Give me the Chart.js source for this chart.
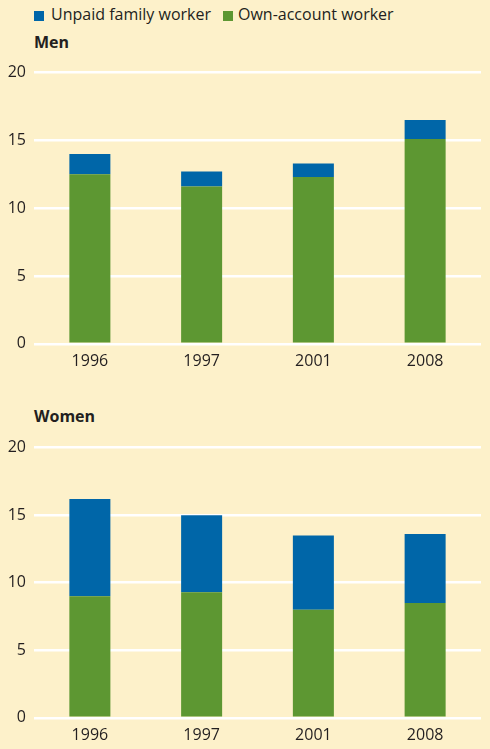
<!DOCTYPE html>
<html>
<head>
<meta charset="utf-8">
<script src="https://cdn.jsdelivr.net/npm/chart.js@4.4.1/dist/chart.umd.min.js"></script>
<style>
    html, body { margin: 0; padding: 0; }
    body {
        width: 490px;
        height: 749px;
        background: #fdf1ca;
        position: relative;
        overflow: hidden;
        font-family: "Open Sans", sans-serif;
        color: #231f20;
    }
    .abs { position: absolute; white-space: nowrap; }
    .swatch { width: 10px; height: 10px; }
    .legend-text { font-size: 16px; }
    .panel-title { font-size: 16px; font-weight: bold; }
    canvas { position: absolute; left: 0; }
</style>
</head>
<body>
<div class="abs swatch" style="left:34px; top:10.5px; background:#0066a8;"></div>
<div class="abs legend-text" style="left:51px; top:3px;">Unpaid family worker</div>
<div class="abs swatch" style="left:223px; top:10.5px; background:#5d9732;"></div>
<div class="abs legend-text" style="left:238px; top:3px;">Own-account worker</div>

<div class="abs panel-title" style="left:34px; top:31px;">Men</div>
<canvas id="menChart" width="490" height="316" style="top:55px;"></canvas>

<div class="abs panel-title" style="left:34px; top:405px;">Women</div>
<canvas id="womenChart" width="490" height="315" style="top:430px;"></canvas>

<script>
const years = ['1996', '1997', '2001', '2008'];
const seriesNames = ['Own-account worker', 'Unpaid family worker'];
const menOwnAccount = [12.5, 11.6, 12.3, 15.1];
const menUnpaid = [1.5, 1.1, 1.0, 1.4];
const womenOwnAccount = [9.0, 9.3, 8.0, 8.5];
const womenUnpaid = [7.2, 5.7, 5.5, 5.1];
const yTicks = [0, 5, 10, 15, 20];

const GREEN = '#5d9732';
const BLUE = '#0066a8';
const TEXT = '#231f20';

Chart.defaults.font.family = '"Open Sans", sans-serif';
Chart.defaults.font.size = 16;
Chart.defaults.color = TEXT;

function renderPanel(canvasId, ownAccount, unpaid, padTop) {
    new Chart(document.getElementById(canvasId), {
        type: 'bar',
        data: {
            labels: years,
            datasets: [{
                label: seriesNames[0],
                data: ownAccount,
                backgroundColor: GREEN,
                barPercentage: 0.367,
                categoryPercentage: 1
            }, {
                label: seriesNames[1],
                data: unpaid,
                backgroundColor: BLUE,
                barPercentage: 0.367,
                categoryPercentage: 1
            }]
        },
        options: {
            responsive: false,
            animation: false,
            layout: {
                padding: { top: padTop, bottom: 0, left: 0, right: 9 }
            },
            plugins: {
                legend: { display: false },
                tooltip: { enabled: false }
            },
            scales: {
                x: {
                    stacked: true,
                    grid: { display: false },
                    border: { display: false },
                    ticks: { padding: 0 }
                },
                y: {
                    stacked: true,
                    min: yTicks[0],
                    max: yTicks[yTicks.length - 1],
                    afterFit: (scale) => { scale.width = 34; },
                    afterBuildTicks: (scale) => {
                        scale.ticks = yTicks.map(v => ({ value: v }));
                    },
                    grid: {
                        color: '#ffffff',
                        lineWidth: 2.5,
                        drawTicks: false
                    },
                    border: { display: false },
                    ticks: { padding: 8 }
                }
            }
        }
    });
}

renderPanel('menChart', menOwnAccount, menUnpaid, 16);
renderPanel('womenChart', womenOwnAccount, womenUnpaid, 15);
</script>
</body>
</html>
